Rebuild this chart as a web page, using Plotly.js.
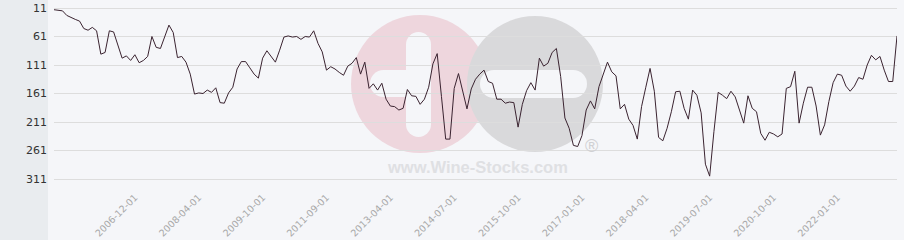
<!DOCTYPE html>
<html>
<head>
<meta charset="utf-8">
<script src="https://cdn.plot.ly/plotly-3.0.1.min.js"></script>
<style>
html,body{margin:0;padding:0;background:#f5f6f9;}
#chart{width:904px;height:240px;}
</style>
</head>
<body>
<div id="chart"></div>
<script>
// ---- data ----
const dates = [
"2005-05-01","2005-06-01","2005-07-01","2005-08-01","2005-09-01","2005-10-01","2005-11-01","2005-12-01",
"2006-01-01","2006-02-01","2006-03-01","2006-04-01","2006-05-01","2006-06-01","2006-07-01","2006-08-01","2006-09-01","2006-10-01","2006-11-01","2006-12-01",
"2007-01-01","2007-02-01","2007-03-01","2007-04-01","2007-05-01","2007-06-01","2007-07-01","2007-08-01","2007-09-01","2007-10-01","2007-11-01",
"2008-01-01","2008-02-01","2008-03-01","2008-04-01","2008-05-01","2008-06-01","2008-07-01","2008-09-01","2008-10-01","2008-11-01",
"2009-01-01","2009-02-01","2009-03-01","2009-05-01","2009-06-01","2009-07-01","2009-08-01","2009-09-01","2009-10-01","2009-12-01",
"2010-01-01","2010-03-01","2010-05-01","2010-06-01","2010-08-01","2010-09-01","2010-11-01",
"2011-01-01","2011-02-01","2011-04-01","2011-05-01","2011-06-01","2011-08-01","2011-09-01","2011-10-01","2011-11-01",
"2012-01-01","2012-02-01","2012-03-01","2012-05-01","2012-06-01","2012-07-01","2012-09-01","2012-10-01","2012-11-01",
"2013-01-01","2013-02-01","2013-03-01","2013-04-01","2013-05-01","2013-06-01","2013-07-01","2013-08-01","2013-09-01","2013-10-01","2013-11-01","2013-12-01",
"2014-01-01","2014-02-01","2014-03-01","2014-04-01","2014-05-01","2014-06-01","2014-07-01","2014-08-01","2014-09-01","2014-10-01","2014-11-01","2014-12-01",
"2015-01-01","2015-02-01","2015-03-01","2015-04-01","2015-05-01","2015-06-01","2015-07-01","2015-08-01","2015-09-01","2015-10-01","2015-11-01","2015-12-01",
"2016-01-01","2016-02-01","2016-03-01","2016-04-01","2016-05-01","2016-06-01","2016-07-01","2016-08-01","2016-09-01","2016-10-01","2016-11-01","2016-12-01",
"2017-01-01","2017-02-01","2017-03-01","2017-04-01","2017-05-01","2017-06-01","2017-07-01","2017-08-01","2017-09-01","2017-10-01","2017-11-01","2017-12-01",
"2018-01-01","2018-02-01","2018-03-01","2018-04-01","2018-05-01","2018-06-01","2018-07-01","2018-08-01","2018-09-01","2018-10-01","2018-11-01","2018-12-01",
"2019-01-01","2019-02-01","2019-03-01","2019-04-01","2019-05-01","2019-06-01","2019-07-01","2019-08-01","2019-09-01","2019-10-01","2019-11-01","2019-12-01",
"2020-01-01","2020-02-01","2020-03-01","2020-04-01","2020-05-01","2020-06-01","2020-07-01","2020-08-01","2020-09-01","2020-10-01","2020-11-01","2020-12-01",
"2021-01-01","2021-02-01","2021-03-01","2021-04-01","2021-05-01","2021-06-01","2021-07-01","2021-08-01","2021-09-01","2021-10-01","2021-11-01","2021-12-01",
"2022-01-01","2022-02-01","2022-03-01","2022-04-01","2022-05-01","2022-06-01","2022-07-01","2022-08-01","2022-09-01","2022-10-01","2022-11-01","2022-12-01",
"2023-01-01","2023-02-01","2023-03-01"
];

const ranks = [
14, 15, 16, 24, 28, 31, 34, 47, 50, 45,
51, 92, 89, 51, 53, 78, 99, 95, 103, 93,
107, 103, 96, 61, 80, 82, 60, 41, 54, 98,
96, 106, 127, 162, 160, 161, 155, 159, 151, 177,
178, 160, 150, 118, 105, 105, 116, 127, 134, 99,
86, 95, 106, 85, 62, 60, 62, 61, 66, 61,
62, 51, 73, 88, 120, 114, 118, 124, 129, 113,
108, 98, 127, 106, 152, 144, 155, 143, 171, 183,
184, 190, 187, 154, 165, 166, 180, 171, 150, 109,
91, 166, 241, 241, 152, 126, 158, 188, 153, 136,
127, 120, 140, 143, 171, 171, 178, 176, 177, 220,
180, 156, 142, 155, 99, 113, 108, 89, 82, 131,
204, 222, 252, 254, 235, 190, 174, 188, 149, 126,
106, 123, 130, 188, 180, 206, 217, 241, 184, 150,
117, 157, 238, 244, 222, 193, 158, 157, 187, 206,
155, 164, 195, 285, 306, 228, 159, 164, 170, 157,
167, 190, 213, 165, 187, 193, 231, 243, 229, 232,
237, 232, 152, 149, 122, 213, 178, 150, 150, 183,
234, 216, 175, 142, 127, 129, 148, 157, 148, 133,
136, 111, 94, 102, 96, 120, 140, 140, 60
];

const xTicks = ["2006-12-01","2008-04-01","2009-10-01","2011-09-01","2013-04-01","2014-07-01",
                "2015-10-01","2017-01-01","2018-04-01","2019-07-01","2020-10-01","2022-01-01"];
const yTicks = [11, 61, 111, 161, 211, 261, 311];

// ---- layout helpers (pixel -> paper) ----
const L = 54, R = 7, T = 0, B = 51;
const PW = 904 - L - R, PH = 240 - T - B;
const PX = x => (x - L) / PW;
const PY = y => (PH + T - y) / PH;
const PXPERUNIT = 0.57;
const yTop = 11 - 8 / PXPERUNIT;
const yBottom = yTop + PH / PXPERUNIT;

function rect(x0, y0, x1, y1, color) {
  return {type:'rect', xref:'paper', yref:'paper', x0:PX(x0), x1:PX(x1), y0:PY(y1), y1:PY(y0),
          fillcolor:color, line:{width:0}, layer:'below'};
}
function circ(x0, y0, x1, y1, color) {
  return {type:'circle', xref:'paper', yref:'paper', x0:PX(x0), x1:PX(x1), y0:PY(y1), y1:PY(y0),
          fillcolor:color, line:{width:0}, layer:'below'};
}

const BG = '#f5f6f9';
const PINK = '#eed6dd';
const GREY = '#d9d9db';

const shapes = [
  rect(0, 0, 48, 240, '#e9ecef'),
  // watermark: pink circle with white cross
  circ(351, 15, 489, 153, PINK),
  rect(406, 44, 431, 125, BG),
  circ(406, 32, 431, 57, BG),
  circ(406, 112, 431, 137, BG),
  rect(383, 70, 431, 97, BG),
  circ(370, 70, 397, 97, BG),
  // grey circle with white bar
  circ(467, 16, 603, 152, GREY),
  rect(494, 70, 573, 98, BG),
  circ(480, 70, 508, 98, BG),
  circ(559, 70, 587, 98, BG)
];

const annotations = [
  {xref:'paper', yref:'paper', x:PX(477), y:PY(166.5), xanchor:'center', yanchor:'middle',
   text:'www.Wine-Stocks.com', showarrow:false,
   font:{family:'Liberation Sans', size:16.5, color:'#dfe0e3', weight:'bold'}},
  {xref:'paper', yref:'paper', x:PX(591), y:PY(146), xanchor:'center', yanchor:'middle',
   text:'®', showarrow:false,
   font:{family:'Liberation Sans', size:18, color:'#d0d0d3'}}
];

const trace = {
  x: dates, y: ranks, type:'scatter', mode:'lines',
  line:{color:'#3a2330', width:1}, hoverinfo:'skip'
};

const layout = {
  width:904, height:240,
  margin:{l:L, r:R, t:T, b:B, pad:0},
  paper_bgcolor:BG, plot_bgcolor:'rgba(0,0,0,0)',
  showlegend:false,
  xaxis:{
    type:'category', range:[0, dates.length - 1],
    tickmode:'array', tickvals:xTicks, ticktext:xTicks,
    tickangle:-45, ticks:'', showgrid:false, zeroline:false, showline:false,
    tickfont:{family:'DejaVu Sans', size:9.5, color:'#a8a8a8'}
  },
  yaxis:{
    range:[yBottom, yTop], tickmode:'array', tickvals:yTicks, ticktext:yTicks.map(String),
    ticks:'', ticklabelstandoff:6, showline:false, zeroline:false,
    gridcolor:'#dddddd', gridwidth:1,
    tickfont:{family:'DejaVu Sans', size:11, color:'#333333'}
  },
  shapes:shapes, annotations:annotations
};

Plotly.newPlot('chart', [trace], layout, {staticPlot:true, displayModeBar:false});
</script>
</body>
</html>
